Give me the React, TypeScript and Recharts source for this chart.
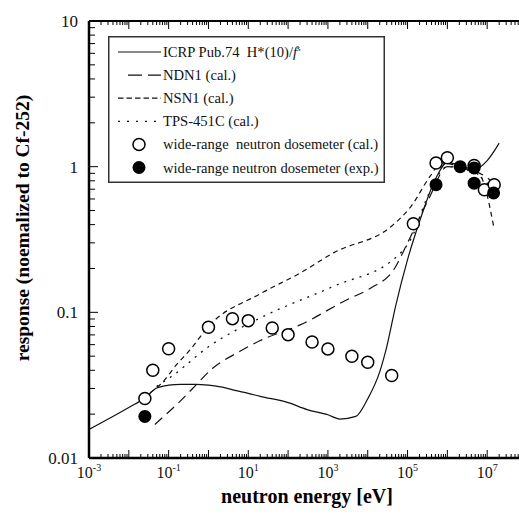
import { ComposedChart, Label, Legend, Line, Scatter, XAxis, YAxis } from "recharts";

const FONT = "Liberation Serif, DejaVu Serif, Times New Roman, serif";

// ICRP Pub.74 H*(10)/f^s
const icrpEnergy = [1e-3, 1e-2, 2.53e-2, 5e-2, 0.1, 0.2, 0.5, 1, 2, 5, 10, 20, 100, 300, 1e3, 2e3, 5e3, 1e4, 2e4, 3e4, 5e4, 1e5, 2e5, 5e5, 1e6, 2e6, 5e6, 1e7, 2e7];
const icrpResponse = [0.0157, 0.0222, 0.0258, 0.0302, 0.0316, 0.032, 0.032, 0.0316, 0.0308, 0.029, 0.0278, 0.0265, 0.024, 0.0215, 0.0198, 0.0185, 0.0193, 0.0255, 0.039, 0.058, 0.11, 0.23, 0.42, 0.82, 1.07, 1.02, 0.96, 1.1, 1.45];

// NDN1 (cal.)
const ndnEnergy = [0.045, 0.1, 0.16, 0.4, 1.3, 6.2, 20, 200, 3e3, 1.2e4, 4.5e4, 1e5, 3.4e5, 1e6, 3e6, 1e7, 1.5e7];
const ndnResponse = [0.017, 0.0207, 0.0233, 0.03, 0.0415, 0.054, 0.064, 0.082, 0.122, 0.147, 0.196, 0.3, 0.6, 1.0, 0.96, 0.84, 0.76];

// NSN1 (cal.)
const nsnEnergy = [0.034, 0.074, 0.15, 0.35, 1, 20, 200, 1380, 4.4e4, 1.2e5, 3.7e5, 7e5, 2e6, 6.7e6, 1.45e7];
const nsnResponse = [0.028, 0.0336, 0.043, 0.0555, 0.08, 0.134, 0.186, 0.256, 0.4, 0.53, 0.86, 1.06, 1.0, 0.86, 0.39];

// TPS-451C (cal.)
const tpsEnergy = [0.05, 0.13, 1, 20, 1380, 5.4e4, 1.3e5, 3e5, 1e6, 5e6, 1.5e7];
const tpsResponse = [0.031, 0.037, 0.058, 0.0915, 0.151, 0.242, 0.33, 0.6, 1.0, 0.9, 0.68];

// wide-range neutron dosemeter (cal.)
const calEnergy = [0.0253, 0.04, 0.1, 1, 4, 10, 40, 100, 400, 1e3, 4e3, 1e4, 4e4, 1.4e5, 5.2e5, 1e6, 4.7e6, 8.5e6, 1.5e7];
const calResponse = [0.0256, 0.04, 0.0563, 0.0789, 0.0905, 0.0877, 0.078, 0.0703, 0.0626, 0.0561, 0.0499, 0.0454, 0.0368, 0.406, 1.06, 1.15, 1.02, 0.695, 0.752];

// wide-range neutron dosemeter (exp.)
const expEnergy = [0.0253, 5.2e5, 2.1e6, 4.7e6, 4.7e6, 1.45e7];
const expResponse = [0.0193, 0.752, 1.0, 0.98, 0.77, 0.66];

const yTickLabels = ["0.01", "0.1", "1", "10"];

const toPoints = (xs: number[], ys: number[]) => xs.map((x, i) => ({ x, y: ys[i] }));

const xTicks: number[] = [];
for (let d = -3; d <= 8; d++) {
  for (let m = 1; m <= 9; m++) {
    if (d === 8 && m > 1) break;
    xTicks.push(Number((m * Math.pow(10, d)).toPrecision(6)));
  }
}
const yTicks: number[] = [];
for (let d = -2; d <= 1; d++) {
  for (let m = 1; m <= 9; m++) {
    if (d === 1 && m > 1) break;
    yTicks.push(Number((m * Math.pow(10, d)).toPrecision(6)));
  }
}

const isDecade = (v: number) => {
  const e = Math.log10(v);
  return Math.abs(e - Math.round(e)) < 1e-6;
};

const txt = { fontFamily: FONT };

const BottomTick = (props: any) => {
  const { x, y, payload } = props;
  const major = isDecade(payload.value);
  const exp = Math.round(Math.log10(payload.value));
  return (
    <g>
      <line x1={x} x2={x} y1={y} y2={y - (major ? 8 : 4)} stroke="#000" strokeWidth={1} />
      {major && exp % 2 !== 0 && (
        <text x={x} y={y + 20} textAnchor="middle" style={txt} fontSize={16} fill="#111">
          <tspan>10</tspan>
          <tspan dy={-7} fontSize={10}>{exp}</tspan>
        </text>
      )}
    </g>
  );
};

const TopTick = (props: any) => {
  const { x, y, payload } = props;
  const major = isDecade(payload.value);
  return <line x1={x} x2={x} y1={y} y2={y + (major ? 8 : 4)} stroke="#000" strokeWidth={1} />;
};

const LeftTick = (props: any) => {
  const { x, y, payload } = props;
  const major = isDecade(payload.value);
  const idx = Math.round(Math.log10(payload.value)) + 2;
  return (
    <g>
      <line x1={x} x2={x + (major ? 9 : 6)} y1={y} y2={y} stroke="#000" strokeWidth={1} />
      {major && (
        <text x={x - 11} y={y + 6} textAnchor="end" style={txt} fontSize={17} fill="#111">
          {yTickLabels[idx]}
        </text>
      )}
    </g>
  );
};

const legendKinds = ["solid", "ndn", "nsn", "tps", "open", "filled"];

const renderLegend = () => (
  <svg width={277} height={147} style={{ display: "block" }}>
    <rect x={0.75} y={0.75} width={275.5} height={145.5} fill="#fff" stroke="#333" strokeWidth={1.5} />
    {legendKinds.map((kind, i) => {
      const cy = 16 + i * 23.1;
      let sample = null;
      if (kind === "solid") sample = <line x1={10} x2={53} y1={cy} y2={cy} stroke="#111" strokeWidth={1.2} />;
      if (kind === "ndn") sample = <line x1={20} x2={53} y1={cy} y2={cy} stroke="#111" strokeWidth={1.2} strokeDasharray="14 6" />;
      if (kind === "nsn") sample = <line x1={10} x2={53} y1={cy} y2={cy} stroke="#111" strokeWidth={1.2} strokeDasharray="5.5 3" />;
      if (kind === "tps") sample = <line x1={10} x2={52} y1={cy} y2={cy} stroke="#111" strokeWidth={1.2} strokeDasharray="2 7" />;
      if (kind === "open") sample = <circle cx={31} cy={cy} r={6} fill="#fff" stroke="#000" strokeWidth={1.5} />;
      if (kind === "filled") sample = <circle cx={31} cy={cy} r={6.5} fill="#000" />;
      let label: any = null;
      if (i === 0)
        label = (
          <>
            ICRP Pub.74  H*(10)/<tspan fontStyle="italic">f</tspan>
            <tspan dy={-6} fontSize={9}>s</tspan>
          </>
        );
      if (i === 1) label = "NDN1 (cal.)";
      if (i === 2) label = "NSN1 (cal.)";
      if (i === 3) label = "TPS-451C (cal.)";
      if (i === 4) label = "wide-range  neutron dosemeter (cal.)";
      if (i === 5) label = "wide-range neutron dosemeter (exp.)";
      return (
        <g key={i}>
          {sample}
          <text x={55} y={cy + 5} fontSize={14.6} fill="#111" style={{ whiteSpace: "pre", fontFamily: FONT }}>
            {label}
          </text>
        </g>
      );
    })}
  </svg>
);

const OpenDot = (props: any) => (
  <circle cx={props.cx} cy={props.cy} r={6} fill="#fff" stroke="#000" strokeWidth={1.5} />
);
const FilledDot = (props: any) => <circle cx={props.cx} cy={props.cy} r={6.5} fill="#000" />;

const YTitle = () => {
  const cx = 29;
  const cy = 228;
  return (
    <text x={cx} y={cy} transform={`rotate(-90, ${cx}, ${cy})`} textAnchor="middle" style={txt} fontSize={19.5} fontWeight="bold" fill="#000">
      response (noemalized to Cf-252)
    </text>
  );
};

const XTitle = () => (
  <text x={307} y={503} textAnchor="middle" style={txt} fontSize={20} fontWeight="bold" fill="#000">
    neutron energy [eV]
  </text>
);

export default function App() {
  return (
    <div style={{ position: "absolute", left: 0, top: 0, width: 519, height: 516, overflow: "hidden", background: "#fff" }}>
      <ComposedChart width={527} height={516} margin={{ top: 0, right: 0, bottom: 0, left: 0 }}>
        <XAxis
          xAxisId="b"
          type="number"
          dataKey="x"
          scale="log"
          domain={[1e-3, 1e8]}
          ticks={xTicks}
          interval={0}
          allowDataOverflow
          height={58}
          tickSize={0}
          tickMargin={0}
          tickLine={false}
          tick={<BottomTick />}
          axisLine={{ stroke: "#000", strokeWidth: 2.5 }}
        >
          <Label content={() => <XTitle />} />
        </XAxis>
        <XAxis
          xAxisId="t"
          orientation="top"
          type="number"
          dataKey="x"
          scale="log"
          domain={[1e-3, 1e8]}
          ticks={xTicks}
          interval={0}
          allowDataOverflow
          height={21}
          tickSize={0}
          tickMargin={0}
          tickLine={false}
          tick={<TopTick />}
          axisLine={{ stroke: "#000", strokeWidth: 2 }}
        />
        <YAxis
          yAxisId="l"
          type="number"
          dataKey="y"
          scale="log"
          domain={[0.01, 10]}
          ticks={yTicks}
          interval={0}
          allowDataOverflow
          width={89}
          tickSize={0}
          tickMargin={0}
          tickLine={false}
          tick={<LeftTick />}
          axisLine={{ stroke: "#000", strokeWidth: 2.5 }}
        >
          <Label content={() => <YTitle />} />
        </YAxis>
        <Legend
          content={renderLegend}
          layout="horizontal"
          verticalAlign="middle"
          align="center"
          width={277}
          height={147}
          wrapperStyle={{ left: 108, top: 36, width: 277, height: 147 }}
        />
        <Line xAxisId="b" yAxisId="l" data={toPoints(icrpEnergy, icrpResponse)} dataKey="y" type="monotone" stroke="#111" strokeWidth={1.2} dot={false} isAnimationActive={false} />
        <Line xAxisId="b" yAxisId="l" data={toPoints(ndnEnergy, ndnResponse)} dataKey="y" type="monotone" stroke="#111" strokeWidth={1.2} strokeDasharray="10 6" dot={false} isAnimationActive={false} />
        <Line xAxisId="b" yAxisId="l" data={toPoints(nsnEnergy, nsnResponse)} dataKey="y" type="monotone" stroke="#111" strokeWidth={1.2} strokeDasharray="5 4" dot={false} isAnimationActive={false} />
        <Line xAxisId="b" yAxisId="l" data={toPoints(tpsEnergy, tpsResponse)} dataKey="y" type="monotone" stroke="#111" strokeWidth={1.3} strokeDasharray="2 6" dot={false} isAnimationActive={false} />
        <Scatter xAxisId="b" yAxisId="l" data={toPoints(calEnergy, calResponse)} dataKey="y" shape={<OpenDot />} isAnimationActive={false} />
        <Scatter xAxisId="b" yAxisId="l" data={toPoints(expEnergy, expResponse)} dataKey="y" shape={<FilledDot />} isAnimationActive={false} />
      </ComposedChart>
    </div>
  );
}
